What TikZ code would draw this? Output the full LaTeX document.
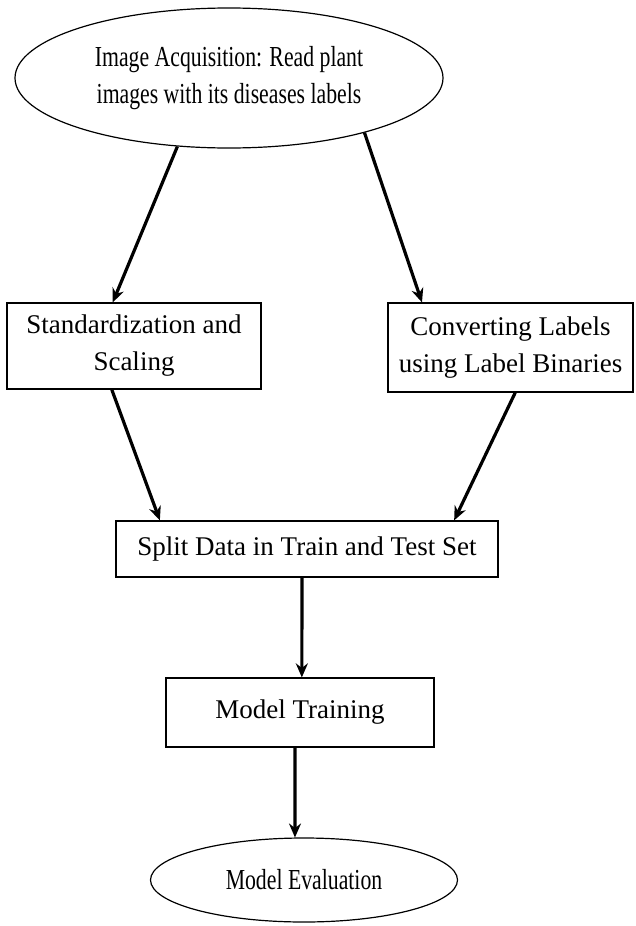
\documentclass[tikz,border=0pt]{standalone}
\usepackage{fontspec}
\setmainfont{Liberation Serif}
\newfontfamily\ovalfont{Liberation Serif}[FakeStretch=0.75]
\usetikzlibrary{positioning, arrows.meta, shapes.geometric}

\begin{document}
\begin{tikzpicture}
        [x=1pt, y=-1pt,
         oval/.style={draw, ellipse, line width=1.2pt, inner sep=0pt, align=center,
                      font=\ovalfont\fontsize{29}{37}\selectfont},
         block/.style={draw, rectangle, line width=1.2pt, inner sep=0pt, align=center,
                       font=\fontsize{27}{37}\selectfont},
         flow/.style={line width=3.2pt},
         >={Stealth[length=14pt, width=12pt]}]
        \useasboundingbox (0,0) rectangle (635,926);

        \node[oval, minimum width=428pt, minimum height=140pt] (acq) at (229,78)
            {Image Acquisition: Read plant\\images with its diseases labels};
        \node[block, minimum width=254pt, minimum height=86pt] (std) at (134,346)
            {Standardization and\\Scaling};
        \node[block, minimum width=245pt, minimum height=89pt] (conv) at (510.5,347.5)
            {Converting Labels\\using Label Binaries};
        \node[block, minimum width=382pt, minimum height=56pt] (split) at (307,549)
            {Split Data in Train and Test Set};
        \node[block, minimum width=268pt, minimum height=69pt] (train) at (300,712.5)
            {Model Training};
        \node[oval, minimum width=307pt, minimum height=84pt] (eval) at (304,880)
            {Model Evaluation};

        \path [->, flow] (acq.233) edge (std.116);
        \path [->, flow] (acq.338) edge (conv.153);
        \path [->, flow] (std.243) edge (split.169.4);
        \path [->, flow] (conv.276) edge (split.11.3);
        \path [->, flow] (split.260) edge (train.87);
        \path [->, flow] (train.262) edge (eval.102);
    \end{tikzpicture}
\end{document}
